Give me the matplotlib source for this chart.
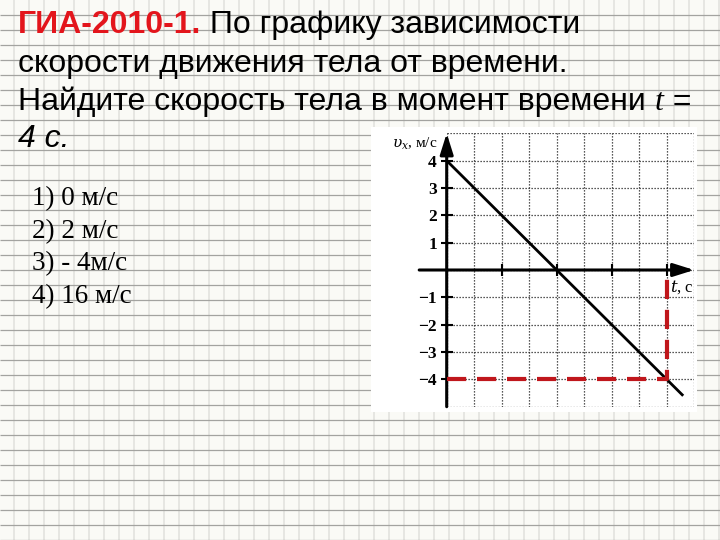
import matplotlib.pyplot as plt
import numpy as np
from matplotlib.patches import Rectangle

W, H = 720, 540

# данные графика v(t)
t_line = [0, 4.3]
v_line = [4, -4.6]
t_ask = 4
v_ask = -4
v_ticks = [4, 3, 2, 1, -1, -2, -3, -4]
t_ticks = [1, 2, 3, 4]
answers = ["1) 0 м/с", "2) 2 м/с", "3) - 4м/с", "4) 16 м/с"]

sans = ['Liberation Sans', 'DejaVu Sans']
serif = ['Liberation Serif', 'DejaVu Serif']
plt.rcParams['mathtext.fontset'] = 'dejavuserif'

fig = plt.figure(figsize=(7.2, 5.4), dpi=100)
fig.patch.set_facecolor('#fafaf6')

# бумага в клетку
bg = fig.add_axes([0, 0, 1, 1], zorder=-2)
bg.set_xlim(0, W)
bg.set_ylim(H, 0)
bg.axis('off')
bg.vlines(np.arange(13.5, W, 15), 0, H, color='#e2e2de', lw=1.2)
bg.hlines(np.arange(14.5, H, 15), 0, W, color='#a3a3a0', lw=0.9)

# белая подложка под график
fig.add_artist(Rectangle((371 / W, 1 - 412 / H), 326 / W, 285 / H,
                         transform=fig.transFigure, facecolor='white',
                         edgecolor='none', zorder=-1))

ax = fig.add_axes([446.7 / W, 1 - 406.7 / H, 247.5 / W, 273.4 / H], zorder=1)
ax.patch.set_visible(False)
ax.set_xlim(0, 4.5)
ax.set_ylim(-5, 5)
for s in ax.spines.values():
    s.set_visible(False)
ax.spines['bottom'].set_position(('data', 0))
ax.spines['left'].set_position(('data', 0))

# сетка
ax.set_xticks(np.arange(0, 4.51, 0.5), minor=True)
ax.set_yticks(np.arange(-5, 5.1, 1), minor=True)
ax.set_xticks(t_ticks)
ax.set_xticklabels([])
ax.set_yticks(v_ticks)
ax.set_yticklabels([str(v).replace('-', '\u2212') for v in v_ticks],
                   family=serif, fontsize=12.5, weight='bold')
ax.grid(which='both', color='#222222', ls=(0, (1, 1.4)), lw=0.9)
ax.tick_params(which='minor', length=0)
ax.tick_params(axis='y', which='major', direction='inout', length=9, width=1.5, pad=2.5)
ax.tick_params(axis='x', which='major', direction='inout', length=8, width=1.5)

# оси со стрелками
arrow = dict(arrowstyle='-|>,head_length=0.7,head_width=0.22', lw=2.2,
             color='black', mutation_scale=18, shrinkA=0, shrinkB=0)
ax.annotate('', xy=(4.5, 0), xytext=(-0.5, 0), arrowprops=arrow, annotation_clip=False)
ax.annotate('', xy=(0, 5), xytext=(0, -5), arrowprops=arrow, annotation_clip=False)

ax.plot(t_line, v_line, color='black', lw=2, zorder=3, solid_capstyle='butt')
ax.plot([0, t_ask, t_ask], [v_ask, v_ask, 0], color='#c0171c', lw=3,
        ls=(0, (4.6, 2.6)), dash_capstyle='butt', zorder=4)

ax.text(-0.17, 4.6, r'$\upsilon_x$, м/с', ha='right', va='center',
        fontsize=11, family=serif)
ax.text(4.28, -0.62, r'$t$, с', ha='center', va='center',
        fontsize=12, family=serif)

# текст задания
renderer = fig.canvas.get_renderer()


def put_line(parts, x, base, size):
    for s, kw in parts:
        kw = dict(kw)
        fam = kw.pop('family', sans)
        txt = fig.text(x / W, 1 - base / H, s, fontsize=size, family=fam,
                       va='baseline', ha='left', **kw)
        x = txt.get_window_extent(renderer).x1


put_line([("ГИА-2010-1.", dict(color='#e3151c', weight='bold')),
          (" По графику зависимости", {})], 18, 33.3, 23)
put_line([("скорости движения тела от времени.", {})], 18, 71.7, 23)
put_line([("Найдите скорость тела в момент времени ", {}),
          ("t", dict(style='italic', family=serif)), (" =", {})], 18, 110, 23)
put_line([("4 с.", dict(style='italic'))], 18, 146.7, 23)

for i, a in enumerate(answers):
    fig.text(32 / W, 1 - (205 + 32.7 * i) / H, a, fontsize=19.5, family=serif,
             va='baseline', ha='left')

fig.savefig('out.png', dpi=100)
